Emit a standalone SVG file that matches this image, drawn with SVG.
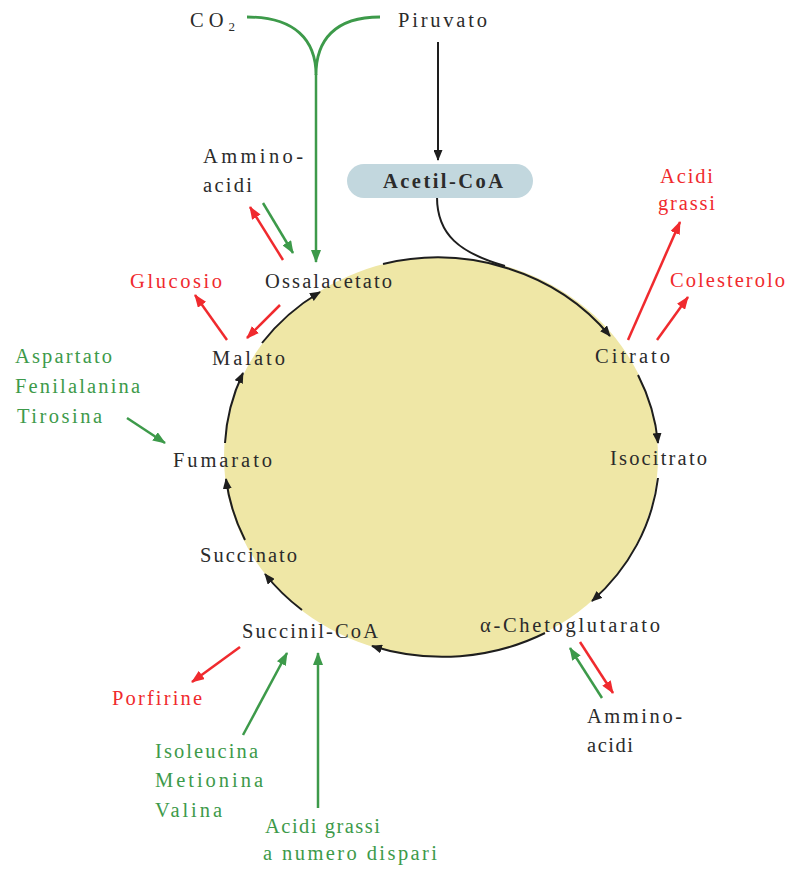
<svg xmlns="http://www.w3.org/2000/svg" width="792" height="871" viewBox="0 0 792 871">
<defs>
<style>
text{font-family:"Liberation Serif","DejaVu Serif",serif;font-size:20.5px;fill:#2b2b2b;lengthAdjust:spacing}
.r{fill:#f02a2e}
.g{fill:#3d9a4a}
.arc{fill:none;stroke:#1e1e1e;stroke-width:2;marker-end:url(#mk)}
.red{stroke:#f02a2e;stroke-width:2.5;fill:none;marker-end:url(#mr)}
.grn{stroke:#3d9a4a;stroke-width:2.5;fill:none;marker-end:url(#mg)}
</style>
<marker id="mk" markerUnits="userSpaceOnUse" markerWidth="11" markerHeight="9" refX="10" refY="4.5" orient="auto"><path d="M0,0 L11,4.5 L0,9 z" fill="#1e1e1e"/></marker>
<marker id="mr" markerUnits="userSpaceOnUse" markerWidth="13" markerHeight="10" refX="12" refY="5" orient="auto"><path d="M0,0 L13,5 L0,10 z" fill="#f02a2e"/></marker>
<marker id="mg" markerUnits="userSpaceOnUse" markerWidth="13" markerHeight="10" refX="12" refY="5" orient="auto"><path d="M0,0 L13,5 L0,10 z" fill="#3d9a4a"/></marker>
</defs>
<rect width="792" height="871" fill="#ffffff"/>

<ellipse id="cycle" cx="441" cy="457" rx="217" ry="200" fill="#efe7a6"/>

<g id="connectors">
<path class="arc" d="M383,264 A217,200 0 0 1 610,336"/>
<path class="arc" d="M638,375 A217,200 0 0 1 658,443"/>
<path class="arc" d="M658,478 A217,200 0 0 1 592,601"/>
<path class="arc" d="M545,633 A217,200 0 0 1 372,646"/>
<path class="arc" d="M302,610 A217,200 0 0 1 265,574"/>
<path class="arc" d="M245,540 A217,200 0 0 1 226,479"/>
<path class="arc" d="M225,443 A217,200 0 0 1 243,373"/>
<path class="arc" d="M262,343 A217,200 0 0 1 320,292"/>
<path d="M437,197 C437,235 460,253 505,266" fill="none" stroke="#1e1e1e" stroke-width="2"/>
<line class="arc" x1="438" y1="42" x2="438" y2="160"/>
<path d="M247,17 C295,17 316,40 316,75 M380,17 C335,17 316,40 316,75" fill="none" stroke="#3d9a4a" stroke-width="2.8"/>
<line class="grn" x1="316" y1="74" x2="316" y2="262" stroke-width="3"/>
<line class="red" x1="283" y1="260" x2="250" y2="207"/>
<line class="red" x1="280" y1="305" x2="247" y2="338"/>
<line class="red" x1="227" y1="340" x2="195" y2="295"/>
<line class="red" x1="628" y1="340" x2="680" y2="222"/>
<line class="red" x1="657" y1="340" x2="688" y2="297"/>
<line class="red" x1="240" y1="647" x2="192" y2="682"/>
<line class="red" x1="580" y1="642" x2="613" y2="693"/>
<line class="grn" x1="263" y1="203" x2="293" y2="253"/>
<line class="grn" x1="127" y1="418" x2="165" y2="443"/>
<line class="grn" x1="243" y1="735" x2="287" y2="653"/>
<line class="grn" x1="318" y1="808" x2="318" y2="653"/>
<line class="grn" x1="602" y1="698" x2="570" y2="648"/>
</g>

<g id="co2"><text x="190" y="27" letter-spacing="5">CO<tspan font-size="13" dy="4" letter-spacing="0">2</tspan></text></g>
<g id="piruvato"><text x="398" y="27" textLength="89">Piruvato</text></g>
<g id="acetilcoa">
<rect x="347" y="164" width="186" height="34" rx="17" fill="#c2d7de"/>
<text x="383" y="188" textLength="120" font-weight="bold">Acetil-CoA</text>
</g>
<g id="amminoacidi1"><text x="203" y="163" textLength="100">Ammino-</text><text x="203" y="192" textLength="49">acidi</text></g>
<g id="ossalacetato"><text x="265" y="288" textLength="127">Ossalacetato</text></g>
<g id="glucosio"><text class="r" x="130" y="288" textLength="92">Glucosio</text></g>
<g id="acidigrassi1"><text class="r" x="660" y="183" textLength="53">Acidi</text><text class="r" x="658" y="210" textLength="57">grassi</text></g>
<g id="colesterolo"><text class="r" x="670" y="287" textLength="115">Colesterolo</text></g>
<g id="malato"><text x="212" y="365" textLength="73">Malato</text></g>
<g id="citrato"><text x="595" y="363" textLength="75">Citrato</text></g>
<g id="aspartato"><text class="g" x="15" y="363" textLength="97">Aspartato</text><text class="g" x="15" y="393" textLength="125">Fenilalanina</text><text class="g" x="17" y="423" textLength="85">Tirosina</text></g>
<g id="fumarato"><text x="173" y="467" textLength="99">Fumarato</text></g>
<g id="isocitrato"><text x="610" y="465" textLength="97">Isocitrato</text></g>
<g id="succinato"><text x="200" y="562" textLength="97">Succinato</text></g>
<g id="succinilcoa"><text x="242" y="638" textLength="136">Succinil-CoA</text></g>
<g id="chetoglutarato"><text x="480" y="632" textLength="180">α-Chetoglutarato</text></g>
<g id="porfirine"><text class="r" x="112" y="705" textLength="90">Porfirine</text></g>
<g id="amminoacidi2"><text x="587" y="723" textLength="95">Ammino-</text><text x="587" y="752" textLength="46">acidi</text></g>
<g id="isoleucina"><text class="g" x="155" y="758" textLength="103">Isoleucina</text><text class="g" x="155" y="787" textLength="108">Metionina</text><text class="g" x="155" y="817" textLength="67">Valina</text></g>
<g id="acididispari"><text class="g" x="265" y="833" textLength="115">Acidi grassi</text><text class="g" x="263" y="860" textLength="174">a numero dispari</text></g>
</svg>
